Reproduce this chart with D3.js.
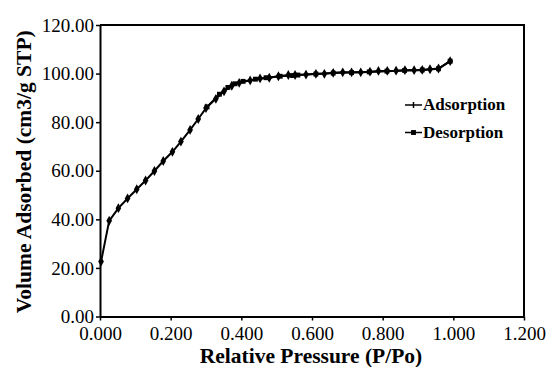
<!DOCTYPE html>
<html>
<head>
<meta charset="utf-8">
<script src="https://cdn.jsdelivr.net/npm/d3@7"></script>
<style>
  html, body { margin: 0; padding: 0; background: #fff; }
  svg { display: block; }
</style>
</head>
<body>
<svg id="chart" width="547" height="367"></svg>
<script>
// ---- Data ----
const adsP = [0.003,0.026,0.052,0.078,0.104,0.129,0.154,0.179,0.205,0.229,0.255,0.278,0.300,0.328,0.351,0.373,0.394,0.425,0.453,0.479,0.505,0.533,0.552,0.583,0.611,0.635,0.660,0.687,0.712,0.738,0.764,0.788,0.813,0.838,0.863,0.889,0.912,0.934,0.958,0.991];
const adsV = [22.6,39.4,44.6,48.6,52.4,56.0,59.9,64.0,67.8,72.0,76.8,81.3,85.8,89.6,92.7,95.0,96.2,97.2,98.0,98.3,98.9,99.4,99.4,99.6,99.9,99.9,100.3,100.5,100.5,100.5,100.8,101.1,101.1,101.2,101.4,101.4,101.5,101.8,102.1,105.1];
const desP = [0.991,0.958,0.912,0.862,0.812,0.762,0.712,0.660,0.611,0.560,0.545,0.510,0.470,0.440,0.405,0.382,0.362,0.338,0.303];
const desV = [105.1,102.0,101.5,101.3,101.0,100.7,100.4,100.2,99.8,99.4,99.2,98.9,98.3,97.7,96.8,95.8,94.3,91.5,86.3];
const xTicks = [0,0.2,0.4,0.6,0.8,1.0,1.2];
const yTicks = [0,20,40,60,80,100,120];
const seriesNames = ["Adsorption","Desorption"];
const xTitle = "Relative Pressure (P/Po)";
const yTitle = "Volume Adsorbed (cm3/g STP)";

// ---- Layout ----
const svg = d3.select("#chart");
const L = 100, R = 524, T = 25, B = 316.5;
const x = d3.scaleLinear().domain([0, 1.2]).range([L, R]);
const y = d3.scaleLinear().domain([0, 120]).range([B, T]);
const font = "'Liberation Serif','Times New Roman',serif";

// frame (top & right)
svg.append("path")
  .attr("d", `M${L},${T}H${R}V${B}`)
  .attr("fill", "none").attr("stroke", "#000").attr("stroke-width", 2);

// axes
const gx = svg.append("g").attr("transform", `translate(0,${B})`)
  .call(d3.axisBottom(x).tickValues(xTicks).tickFormat(d3.format(".3f")).tickSize(4).tickSizeOuter(0).tickPadding(6));
const gy = svg.append("g").attr("transform", `translate(${L},0)`)
  .call(d3.axisLeft(y).tickValues(yTicks).tickFormat(d3.format(".2f")).tickSize(4).tickSizeOuter(0).tickPadding(2));
[gx, gy].forEach(g => {
  g.select(".domain").attr("stroke-width", 2);
  g.selectAll(".tick line").attr("stroke-width", 1.5);
  g.selectAll(".tick text").attr("font-family", font).attr("font-size", 19).attr("fill", "#000");
});

// titles
svg.append("text").attr("x", (L + R) / 2 - 1).attr("y", 363)
  .attr("text-anchor", "middle").attr("font-family", font).attr("font-weight", "bold")
  .attr("font-size", 21.5).text(xTitle);
svg.append("text").attr("transform", `translate(31,${(T + B) / 2 + 1}) rotate(-90)`)
  .attr("text-anchor", "middle").attr("font-family", font).attr("font-weight", "bold")
  .attr("font-size", 21.5).text(yTitle);

// lines
const line = d3.line().x(d => x(d[0])).y(d => y(d[1]));
const ads = adsP.map((p, i) => [p, adsV[i]]);
const des = desP.map((p, i) => [p, desV[i]]);
[ads, des].forEach(data => {
  svg.append("path").datum(data).attr("d", line)
    .attr("fill", "none").attr("stroke", "#000").attr("stroke-width", 2);
});

// markers
const diamond = d3.symbol().type(d3.symbolDiamond).size(28);
const square = d3.symbol().type(d3.symbolSquare).size(24);
svg.append("g").selectAll("path").data(ads).join("path")
  .attr("d", diamond).attr("transform", d => `translate(${x(d[0])},${y(d[1])})`).attr("fill", "#000");
svg.append("g").selectAll("path").data(des).join("path")
  .attr("d", square).attr("transform", d => `translate(${x(d[0])},${y(d[1])})`).attr("fill", "#000");

// legend
const legY = [105, 132.5];
const leg = svg.append("g");
seriesNames.forEach((name, i) => {
  leg.append("line").attr("x1", 405).attr("x2", 422).attr("y1", legY[i]).attr("y2", legY[i])
    .attr("stroke", "#000").attr("stroke-width", 1.5);
  if (i === 0) {
    leg.append("line").attr("x1", 413.5).attr("x2", 413.5).attr("y1", legY[i] - 3).attr("y2", legY[i] + 3)
      .attr("stroke", "#000").attr("stroke-width", 1.5);
  } else {
    leg.append("path").attr("d", square).attr("transform", `translate(413.5,${legY[i]})`).attr("fill", "#000");
  }
  leg.append("text").attr("x", 423).attr("y", legY[i] + 5)
    .attr("font-family", font).attr("font-weight", "bold").attr("font-size", 17).text(name);
});
</script>
</body>
</html>
